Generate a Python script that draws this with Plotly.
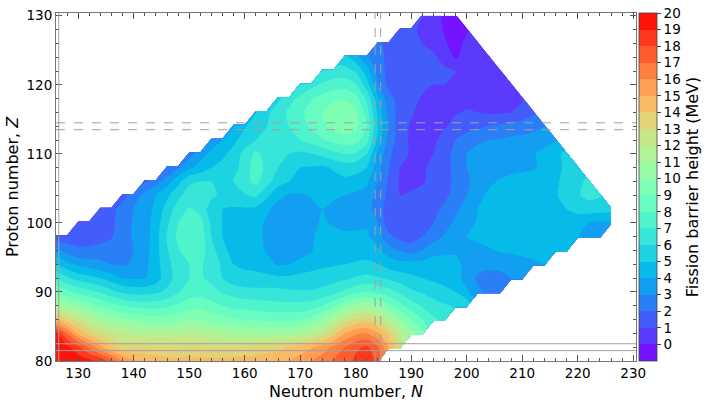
import math
import plotly.graph_objects as go

# even-even grid: every 2nd neutron number and every 2nd proton number
neutrons = list(range(126, 227, 2))
protons = list(range(80, 131, 2))

# fission barrier heights (MeV), one row per Z: (first N of the row, values in steps of 2)
z080 = (126, [19.8, 19.8, 19.6, 19.3, 18.8, 17.5, 16.0, 15.2, 14.8, 14.6, 14.4, 14.3, 14.3, 14.4, 14.3,
              14.3, 14.4, 14.4, 14.5, 14.6, 14.7, 15.0, 15.5, 16.0, 16.5, 17.1, 17.6, 18.2, 18.5, 17.8])
z082 = (126, [19.8, 19.3, 18.3, 16.8, 15.3, 14.1, 13.3, 13.2, 13.2, 13.1, 13.1, 13.1, 13.2, 13.2, 13.0,
              13.0, 13.1, 13.2, 13.3, 13.5, 13.7, 14.0, 14.4, 14.9, 15.5, 16.2, 17.0, 17.8, 18.2, 17.2,
              15.0, 13.0])
z084 = (126, [19.3, 17.0, 14.8, 13.6, 12.8, 12.3, 12.0, 11.8, 11.7, 11.6, 11.6, 11.7, 11.8, 11.8, 11.4,
              11.2, 11.0, 10.9, 10.9, 10.8, 10.8, 10.9, 11.2, 11.6, 12.3, 13.6, 15.0, 15.8, 16.0, 15.2,
              13.5, 12.0, 10.5, 9.3])
z086 = (126, [14.5, 13.4, 12.5, 11.7, 11.0, 10.5, 10.0, 9.8, 9.6, 9.5, 9.5, 9.7, 10.0, 10.0, 9.6,
              9.4, 9.2, 9.0, 8.9, 8.8, 8.8, 8.8, 8.9, 9.4, 10.2, 11.3, 12.5, 13.2, 13.5, 12.8,
              11.5, 10.2, 9.0, 8.0, 7.2, 6.7])
z088 = (126, [11.2, 10.6, 10.0, 9.4, 8.9, 8.4, 8.0, 7.7, 7.6, 7.6, 7.8, 8.2, 8.6, 8.7, 8.4,
              8.0, 7.7, 7.6, 7.5, 7.4, 7.3, 7.3, 7.3, 7.5, 7.9, 8.8, 9.8, 10.5, 10.8, 10.2,
              9.2, 8.3, 7.5, 6.9, 6.4, 6.1, 5.9, 5.7])
z090 = (126, [9.0, 8.3, 7.7, 7.3, 6.9, 6.3, 5.8, 5.6, 5.6, 5.8, 6.2, 6.9, 7.5, 7.6, 7.3,
              6.9, 6.6, 6.4, 6.3, 6.3, 6.3, 6.2, 6.1, 6.1, 6.3, 6.7, 7.2, 7.7, 8.0, 7.8,
              7.4, 6.8, 6.2, 5.9, 5.6, 5.3, 5.0, 4.2, 3.2, 2.8, 2.6])
z092 = (126, [7.0, 6.2, 5.6, 5.3, 5.0, 4.5, 4.0, 3.9, 3.9, 4.5, 5.6, 6.4, 7.0, 7.1, 6.8,
              6.0, 5.4, 5.3, 5.3, 5.3, 5.2, 5.2, 5.3, 5.4, 5.5, 5.6, 5.8, 6.1, 6.3, 6.1,
              5.8, 5.5, 5.2, 5.0, 4.8, 4.6, 4.4, 3.6, 2.8, 2.6, 2.7, 3.0, 3.4])
z094 = (126, [5.0, 4.3, 3.8, 3.5, 3.2, 3.0, 2.9, 3.1, 3.7, 4.6, 5.7, 6.5, 7.0, 7.1, 6.7,
              5.8, 5.0, 4.8, 4.7, 4.3, 3.9, 4.0, 4.4, 4.6, 4.8, 4.9, 5.0, 5.1, 5.2, 5.0,
              4.6, 4.4, 4.4, 4.4, 4.5, 4.4, 4.2, 3.8, 3.4, 3.3, 3.3, 3.4, 3.6, 3.8, 4.0])
z096 = (126, [3.3, 2.6, 2.2, 2.2, 2.5, 2.6, 2.7, 3.0, 3.6, 4.6, 5.9, 6.9, 7.6, 7.5, 6.4,
              5.3, 4.6, 4.5, 4.4, 3.9, 3.5, 3.4, 3.4, 3.9, 4.6, 4.6, 4.6, 4.6, 4.6, 4.2,
              3.4, 2.9, 2.6, 3.0, 3.6, 3.8, 3.9, 3.8, 3.7, 3.9, 4.1, 4.2, 4.3, 4.4, 4.4,
              4.4, 4.3])
z098 = (126, [1.4, 1.4, 1.5, 1.5, 1.5, 1.9, 2.6, 3.1, 3.5, 4.6, 6.1, 7.2, 7.8, 7.6, 6.0,
              5.0, 4.5, 4.4, 4.3, 3.8, 3.4, 3.2, 3.2, 3.8, 4.5, 4.5, 4.3, 4.3, 4.2, 3.4,
              2.2, 1.7, 1.5, 2.0, 2.6, 3.1, 3.6, 4.0, 4.2, 4.3, 4.4, 4.5, 4.6, 4.6, 4.6,
              4.5, 4.4, 4.0, 3.6, 3.7])
z100 = (130, [1.3, 1.3, 1.4, 1.8, 2.5, 3.1, 3.5, 4.5, 5.8, 7.0, 7.7, 7.4, 5.8, 5.0, 4.6,
              4.5, 4.4, 3.8, 3.4, 3.2, 3.2, 3.6, 4.2, 3.8, 3.6, 3.6, 3.8, 3.0,
              1.4, 1.2, 1.1, 1.4, 2.0, 2.6, 3.2, 3.7, 4.1, 4.3, 4.5, 4.6, 4.6, 4.6, 4.6,
              4.6, 4.6, 4.4, 4.0, 3.8, 4.0])
z102 = (134, [1.2, 1.7, 2.4, 3.0, 3.4, 4.3, 5.4, 6.5, 7.1, 6.7, 5.5, 5.0, 4.9, 4.9, 4.8,
              4.2, 3.6, 3.5, 3.5, 3.7, 4.0, 3.7, 3.5, 3.5, 3.4,
              2.5, 1.4, 1.2, 1.1, 1.3, 1.7, 2.2, 2.8, 3.5, 4.0, 4.3, 4.5, 4.6, 4.6, 4.6,
              4.6, 4.7, 5.0, 5.3, 5.5, 5.4, 5.3])
z104 = (138, [1.6, 2.5, 3.3, 4.0, 4.8, 5.7, 6.5, 6.5, 6.2, 5.8, 5.6, 5.9, 6.2, 5.2, 4.3,
              3.9, 3.9, 4.1, 4.4, 4.2, 4.0, 3.8, 3.6,
              2.6, 1.7, 1.0, 1.1, 1.3, 1.5, 1.8, 2.3, 3.0, 3.7, 4.2, 4.4, 4.5, 4.6, 4.6,
              4.7, 4.9, 5.4, 5.9, 6.3, 6.1])
z106 = (142, [1.8, 2.6, 3.5, 4.7, 5.8, 6.0, 6.0, 6.0, 6.0, 6.7, 7.3, 6.4, 5.4, 5.0, 4.8,
              4.7, 4.6, 4.7, 4.8, 4.6, 4.2,
              3.0, 1.8, 0.9, 0.8, 0.9, 1.3, 1.7, 2.2, 2.8, 3.4, 3.8, 4.1, 4.3, 4.4, 4.5,
              4.6, 4.8, 5.4, 5.8, 6.2])
z108 = (146, [2.0, 2.9, 3.8, 4.4, 5.0, 5.3, 5.5, 6.6, 7.4, 6.8, 6.0, 5.4, 5.0, 4.9, 4.8,
              5.1, 5.4, 5.4,
              5.0, 3.4, 2.0, 1.0, 0.8, 0.9, 1.2, 1.6, 2.3, 3.0, 3.3, 3.5, 3.6, 3.7, 3.8,
              3.9, 4.2, 4.6, 5.3, 5.6])
z110 = (150, [2.6, 3.5, 4.3, 4.8, 5.3, 6.4, 7.2, 6.7, 6.2, 6.0, 5.8, 6.0, 6.3, 6.7, 7.0, 6.9,
              6.0, 3.8, 2.2, 1.3, 0.9, 0.8, 1.0, 1.6, 2.3, 3.0, 3.4, 3.5, 3.6, 3.6, 3.7,
              3.9, 4.3, 4.7, 5.3])
z112 = (154, [3.2, 4.0, 4.8, 5.4, 6.0, 6.2, 6.4, 6.7, 7.0, 7.4, 7.9, 8.3, 8.6, 8.4,
              7.4, 4.6, 2.6, 1.5, 0.8, 0.7, 0.8, 1.4, 2.0, 2.5, 2.8, 3.0, 3.1, 3.2, 3.3,
              3.4, 3.6, 3.9])
z114 = (158, [4.0, 4.9, 5.6, 6.0, 6.4, 7.0, 7.6, 8.2, 8.8, 9.3, 9.6, 9.3,
              8.0, 5.0, 2.8, 1.4, 0.9, 0.7, 0.7, 0.9, 1.4, 1.6, 1.8, 2.0, 2.2, 2.4, 2.5,
              2.7, 3.0])
z116 = (162, [5.0, 5.8, 6.5, 7.2, 7.8, 8.4, 9.0, 9.5, 9.7, 9.3,
              7.5, 4.8, 2.6, 1.6, 1.1, 0.7, 0.6, 0.7, 0.9, 1.1, 1.0, 0.9, 0.9, 1.0, 1.3, 1.8])
z118 = (166, [5.8, 6.6, 7.3, 7.9, 8.4, 8.8, 8.9, 8.4,
              6.8, 4.2, 2.3, 1.6, 1.3, 0.9, 0.7, 0.6, 0.6, 0.7, 0.6, 0.6, 0.6, 0.7, 0.9])
z120 = (170, [6.0, 6.7, 7.2, 7.5, 7.6, 7.1, 5.5, 3.0, 1.7, 1.5, 1.4, 1.2, 1.0, 1.0, 0.9,
              0.6, 0.5, 0.5, 0.6, 0.8])
z122 = (174, [6.0, 6.3, 6.4, 5.9, 4.5, 2.6, 1.6, 1.5, 1.4, 1.3, 1.2, 1.2, 1.0, 0.7, 0.6,
              0.6, 0.7])
z124 = (178, [5.3, 4.4, 3.2, 2.4, 1.7, 1.5, 1.4, 1.2, 1.2, 0.6, -0.1, 0.4, 0.7, 0.9])
z126 = (184, [2.3, 1.6, 1.4, 1.2, 1.0, 0.6, 0.1, -0.3, 0.2, 0.6])
z128 = (188, [1.4, 1.2, 0.8, 0.5, -0.1, -0.4, -0.1])
z130 = (192, [1.0, 0.4, -0.2, -0.4])

rows = [z080, z082, z084, z086, z088, z090, z092, z094, z096, z098, z100, z102, z104,
        z106, z108, z110, z112, z114, z116, z118, z120, z122, z124, z126, z128, z130]

# colorbar ticks and magic numbers
bar_ticks = list(range(0, 21))
magic_n = [126]
magic_z = [82]
predicted_n = [184]
predicted_z = [114]


def pad_row(first_n, values):
    start = neutrons.index(first_n)
    return [None] * start + values + [None] * (len(neutrons) - start - len(values))


barrier = [pad_row(n0, vals) for n0, vals in rows]


# matplotlib "rainbow" colormap, sampled at the middle of each 1 MeV band
def rainbow(t):
    r = min(1.0, abs(2 * t - 0.5))
    g = math.sin(math.pi * t)
    b = math.cos(math.pi * t / 2)
    return 'rgb(%d,%d,%d)' % (round(r * 255), round(g * 255), round(b * 255))


lo, hi = -1, 20
nb = hi - lo
colorscale = []
for k in range(nb):
    c = rainbow((k + 0.5) / nb)
    colorscale.append([k / nb, c])
    colorscale.append([(k + 1) / nb, c])

fig = go.Figure()
fig.add_trace(go.Contour(
    x=neutrons, y=protons, z=barrier,
    connectgaps=False,
    zmin=lo, zmax=hi,
    colorscale=colorscale,
    contours=dict(start=lo, end=hi, size=1, coloring='fill', showlines=False),
    line=dict(width=0, smoothing=0.6),
    colorbar=dict(
        x=1.005, xanchor='left', xpad=0,
        y=0.5, yanchor='middle', len=1, ypad=0,
        thickness=18, outlinewidth=0.8, outlinecolor='#444',
        tickvals=bar_ticks, ticks='outside', ticklen=4, tickcolor='#444',
        tickfont=dict(size=13.5),
        title=dict(text='Fission barrier height (MeV)', side='right', font=dict(size=16)),
    ),
))

# magic-number guide lines (cell edges at +-0.5)
for n in magic_n + predicted_n:
    dash = 'solid' if n in magic_n else 'dash'
    for e in (n - 0.5, n + 0.5):
        fig.add_shape(type='line', xref='x', yref='paper', x0=e, x1=e, y0=0, y1=1,
                      line=dict(color='#a0a0a0', width=1, dash=dash))
for z in magic_z + predicted_z:
    dash = 'solid' if z in magic_z else 'dash'
    for e in (z - 0.5, z + 0.5):
        fig.add_shape(type='line', xref='paper', yref='y', x0=0, x1=1, y0=e, y1=e,
                      line=dict(color='#a0a0a0', width=1, dash=dash))

axis_style = dict(
    ticks='inside', ticklen=6, tickcolor='#555', showline=True, linecolor='#777',
    linewidth=1, mirror='allticks', showgrid=False, zeroline=False,
    tickfont=dict(size=13.5),
    minor=dict(dtick=2, ticks='inside', ticklen=3, tickcolor='#555'),
)
fig.update_xaxes(range=[126, 230.5], tick0=130, dtick=10, **axis_style)
fig.update_yaxes(range=[80, 130.4], tick0=80, dtick=10,
                 title=dict(text='Proton number, <i>Z</i>', standoff=3, font=dict(size=16)),
                 **axis_style)

# x title sits close under the tick labels, as in the original
fig.add_annotation(text='Neutron number, <i>N</i>', xref='paper', yref='paper',
                   x=0.5, y=0, xanchor='center', yanchor='top', yshift=-19,
                   showarrow=False, font=dict(size=16))

fig.update_layout(
    width=706, height=404,
    margin=dict(l=56, r=70, t=13, b=43, autoexpand=False),
    paper_bgcolor='white', plot_bgcolor='white',
    font=dict(family='DejaVu Sans', size=14, color='black'),
    showlegend=False,
)

# drop the default page margin so the 706x404 figure fills the window exactly
fig.write_html('out.html', config={'displayModeBar': False},
               post_script="document.body.style.margin='0';")
